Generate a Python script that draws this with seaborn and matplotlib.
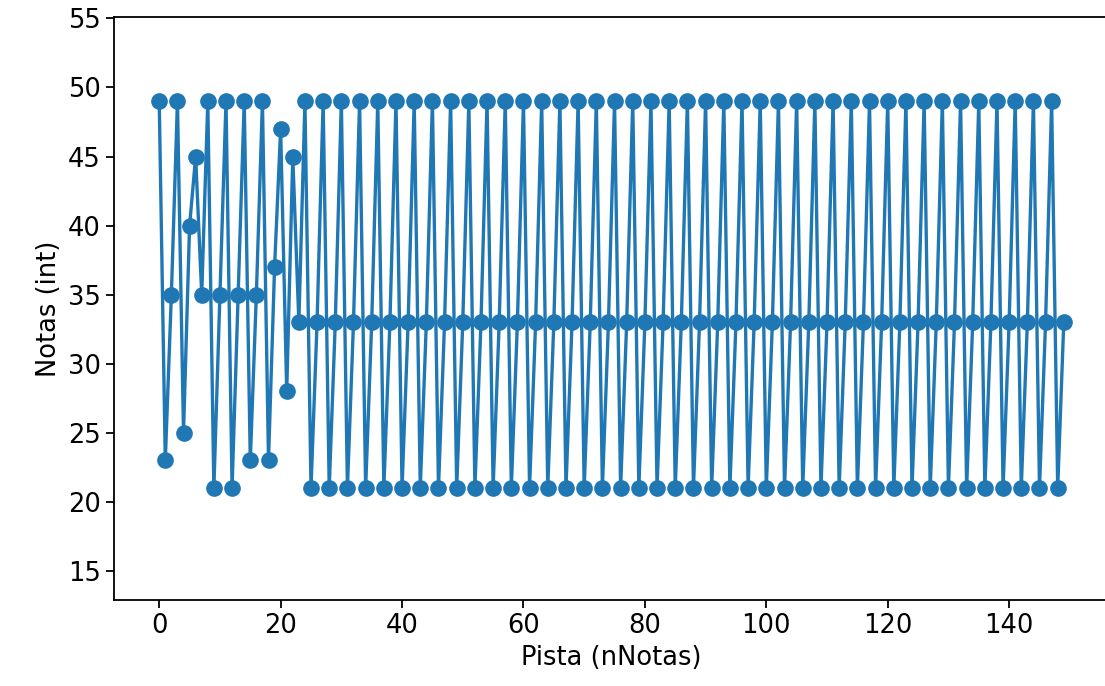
import matplotlib
matplotlib.use("Agg")
import matplotlib.pyplot as plt
import seaborn as sns
import pandas as pd

# Note values (index = position in the track)
notas = [
    49, 23, 35, 49, 25, 40, 45, 35, 49, 21, 35, 49, 21, 35, 49, 23,
    35, 49, 23, 37, 47, 28, 45, 33,
    49, 21, 33, 49, 21, 33, 49, 21, 33, 49, 21, 33, 49, 21, 33, 49, 21, 33,
    49, 21, 33, 49, 21, 33, 49, 21, 33, 49, 21, 33, 49, 21, 33, 49, 21, 33,
    49, 21, 33, 49, 21, 33, 49, 21, 33, 49, 21, 33, 49, 21, 33, 49, 21, 33,
    49, 21, 33, 49, 21, 33, 49, 21, 33, 49, 21, 33, 49, 21, 33, 49, 21, 33,
    49, 21, 33, 49, 21, 33, 49, 21, 33, 49, 21, 33, 49, 21, 33, 49, 21, 33,
    49, 21, 33, 49, 21, 33, 49, 21, 33, 49, 21, 33, 49, 21, 33, 49, 21, 33,
    49, 21, 33, 49, 21, 33, 49, 21, 33, 49, 21, 33, 49, 21, 33, 49, 21, 33,
]
pista = list(range(len(notas)))

x_label = "Pista (nNotas)"
y_label = "Notas (int)"

df = pd.DataFrame({"pista": pista, "notas": notas})

plt.rcParams["font.family"] = ["DejaVu Sans"]
fs = 18.5

fig = plt.figure(figsize=(11.05, 6.86), dpi=100)
ax = fig.add_axes([114 / 1105, 86 / 686, (1109 - 114) / 1105, (600 - 17) / 686])

sns.lineplot(data=df, x="pista", y="notas", ax=ax, sort=False,
             color="#1f77b4", linewidth=2.4, marker="o", markersize=12,
             markeredgewidth=0, errorbar=None)

ax.set_ylim(12.9, 55.1)
ax.set_xticks([0, 20, 40, 60, 80, 100, 120, 140])
ax.set_yticks([15, 20, 25, 30, 35, 40, 45, 50, 55])
ax.set_xlabel(x_label, fontsize=fs)
ax.set_ylabel(y_label, fontsize=fs)
ax.tick_params(labelsize=fs, length=6, width=1.3)
for s in ax.spines.values():
    s.set_linewidth(1.3)

fig.savefig("out.png", dpi=100)
